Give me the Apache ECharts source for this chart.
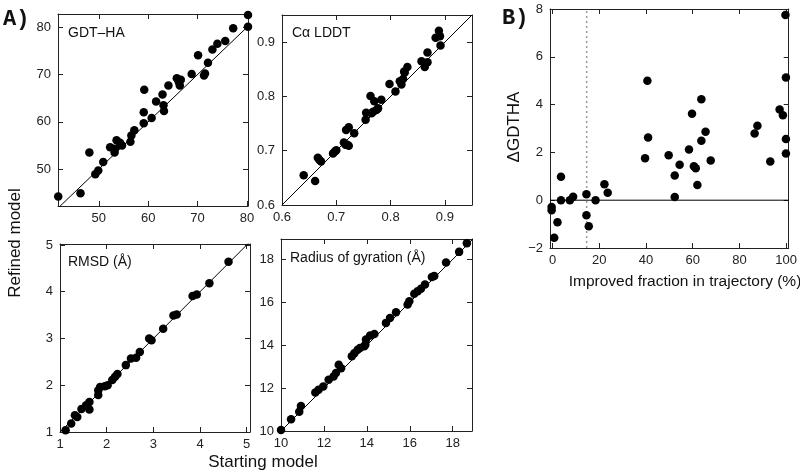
<!DOCTYPE html>
<html>
<head>
<meta charset="utf-8">
<script src="https://cdn.jsdelivr.net/npm/echarts@6/dist/echarts.min.js"></script>
<style>html,body{margin:0;padding:0;background:#fff}#c{width:800px;height:474px}</style>
</head>
<body>
<div id="c"></div>
<script>
// ---- data (starting, refined) ----
const gdtHA = [[41.8,44.2],[46.3,44.9],[48.1,53.5],[49.3,48.9],[49.9,49.7],[50.9,51.5],[52.3,54.6],[53.2,53.5],[53.3,54.3],[53.6,56.1],[54.3,55.6],[54.7,55.0],[56.4,55.8],[56.6,57.1],[57.2,58.2],[59.1,59.7],[59.1,62.0],[59.2,66.8],[60.7,60.8],[61.6,64.3],[62.9,65.8],[63.1,63.5],[63.2,62.3],[64.1,67.7],[65.8,69.2],[66.2,68.4],[66.6,68.9],[66.4,67.7],[68.8,70.1],[70.1,74.1],[71.3,69.8],[71.5,70.2],[72.1,72.5],[73.0,75.3],[74.0,76.5],[75.6,77.1],[77.2,79.8],[80.2,82.6],[80.2,80.1]];
const caLDDT = [[0.640,0.655],[0.661,0.644],[0.666,0.687],[0.669,0.683],[0.672,0.680],[0.694,0.695],[0.697,0.698],[0.700,0.701],[0.714,0.715],[0.717,0.711],[0.718,0.738],[0.723,0.743],[0.720,0.711],[0.723,0.709],[0.733,0.732],[0.754,0.757],[0.755,0.770],[0.763,0.801],[0.765,0.769],[0.768,0.772],[0.770,0.791],[0.774,0.775],[0.777,0.778],[0.783,0.794],[0.798,0.823],[0.809,0.809],[0.817,0.828],[0.820,0.822],[0.823,0.832],[0.826,0.844],[0.831,0.854],[0.825,0.846],[0.857,0.865],[0.863,0.854],[0.868,0.863],[0.868,0.881],[0.883,0.908],[0.889,0.921],[0.891,0.911],[0.892,0.894]];
const rmsd = [[1.12,1.04],[1.24,1.18],[1.32,1.36],[1.37,1.32],[1.46,1.49],[1.56,1.57],[1.63,1.64],[1.63,1.48],[1.82,1.89],[1.86,1.96],[1.82,1.79],[1.96,1.98],[2.02,2.00],[2.12,2.11],[2.18,2.18],[2.23,2.24],[2.41,2.43],[2.52,2.57],[2.63,2.59],[2.71,2.71],[2.91,3.00],[2.96,2.96],[3.21,3.21],[3.43,3.49],[3.50,3.51],[3.84,3.91],[3.93,3.94],[4.20,4.18],[4.61,4.64]];
const rgyr = [[10.0,10.05],[10.47,10.55],[10.85,10.9],[10.93,11.17],[11.6,11.8],[11.75,11.92],[11.97,12.07],[12.22,12.39],[12.45,12.54],[12.56,12.7],[12.69,13.09],[12.8,12.93],[13.3,13.48],[13.42,13.63],[13.57,13.79],[13.68,13.87],[13.88,13.95],[13.96,14.26],[13.93,14.02],[14.15,14.45],[14.35,14.52],[14.89,15.04],[15.08,15.27],[15.36,15.54],[15.9,15.9],[15.98,16.05],[16.21,16.4],[16.37,16.52],[16.52,16.63],[16.71,16.83],[17.03,17.18],[17.14,17.22],[17.69,17.85],[18.3,18.35],[18.66,18.75]];
// panel B: improved fraction (%), delta GDT-HA
const improved = [[-0.4,-0.28],[-0.4,-0.42],[0.7,-1.57],[2.1,-0.92],[3.6,0.98],[3.6,0.0],[7.4,0.0],[8.8,0.14],[14.5,0.25],[14.5,-0.63],[15.5,-1.09],[18.4,0.0],[22.2,0.67],[23.6,0.31],[39.6,1.76],[40.6,5.0],[40.9,2.62],[49.7,1.88],[52.3,1.03],[52.3,0.13],[54.4,1.48],[58.4,2.12],[59.7,3.62],[60.5,1.42],[61.3,1.34],[62.0,0.64],[63.7,2.49],[63.7,4.22],[65.5,2.86],[67.7,1.66],[86.5,2.79],[87.7,3.12],[93.2,1.62],[97.2,3.79],[98.6,3.55],[99.7,7.75],[99.9,5.13],[99.9,2.56],[99.9,1.95]];
const threshold = 14.6;
// tick labels
const gdtTicks = [50,60,70,80];
const lddtTicks = [0.6,0.7,0.8,0.9];
const rmsdTicks = [1,2,3,4,5];
const rgyrTicks = [10,12,14,16,18];
const bxTicks = [0,20,40,60,80,100];
const byTicks = [-2,0,2,4,6,8];

const FONT = 'Liberation Sans';
const LINE = '#222';

const panels = [
  {grid:{left:58,top:14,width:190,height:192}, x:[41.75,80.2], y:[42.2,82.8], xt:gdtTicks, yt:gdtTicks, data:gdtHA, diag:true},
  {grid:{left:282,top:15,width:190,height:190}, x:[0.6,0.95], y:[0.6,0.95], xt:lddtTicks, yt:lddtTicks, data:caLDDT, diag:true},
  {grid:{left:60,top:244,width:190,height:188}, x:[1,5.07], y:[1,5.02], xt:rmsdTicks, yt:rmsdTicks, data:rmsd, diag:true},
  {grid:{left:281,top:239,width:191,height:192}, x:[10,18.9], y:[10,18.95], xt:rgyrTicks, yt:rgyrTicks, data:rgyr, diag:true},
  {grid:{left:550,top:9,width:239,height:239}, x:[-1.1,101.1], y:[-2,8], xt:bxTicks, yt:byTicks, data:improved, diag:false}
];

const fmt = v => String(+v.toFixed(2)).replace('-', '\u2212');

const grids = [], xAxes = [], yAxes = [], series = [];
panels.forEach((p, i) => {
  grids.push(p.grid);
  const base = (pos, range, ticks, show, isX) => ({
    type:'value', gridIndex:i, position:pos, min:range[0], max:range[1],
    splitLine:{show:false},
    axisLine:{show:true, onZero:false, lineStyle:{color:LINE, width:1}},
    axisTick:{show:true, inside:true, length:5, customValues:ticks, lineStyle:{color:LINE}},
    axisLabel:{show:show, customValues:ticks, formatter:fmt, color:'#222', fontSize:13, fontFamily:FONT, margin: isX ? 6 : 7}
  });
  xAxes.push(base('bottom', p.x, p.xt, true, true));
  xAxes.push(base('top', p.x, p.xt, false, true));
  yAxes.push(base('left', p.y, p.yt, true, false));
  yAxes.push(base('right', p.y, p.yt, false, false));
  const xi = i*2, yi = i*2;
  if (p.diag) {
    const lo = Math.min(p.x[0], p.y[0]), hi = Math.max(p.x[1], p.y[1]);
    series.push({type:'line', xAxisIndex:xi, yAxisIndex:yi, data:[[lo,lo],[hi,hi]], symbol:'none', clip:true,
      lineStyle:{color:'#000', width:1}, silent:true, z:1});
  } else {
    series.push({type:'line', xAxisIndex:xi, yAxisIndex:yi, data:[[p.x[0],0],[p.x[1],0]], symbol:'none', clip:true,
      lineStyle:{color:'#000', width:1}, silent:true, z:1});
    series.push({type:'line', xAxisIndex:xi, yAxisIndex:yi, data:[[threshold,p.y[0]],[threshold,p.y[1]]], symbol:'none', clip:true,
      lineStyle:{color:'#999', width:1.5, type:[2,3]}, silent:true, z:1});
  }
  series.push({type:'scatter', xAxisIndex:xi, yAxisIndex:yi, data:p.data, symbol:'circle', symbolSize:8.5,
    itemStyle:{color:'#000', opacity:1}, clip:false, z:3});
});

const txt = (x, y, s, size, extra) => Object.assign({type:'text', x:x, y:y,
  style:Object.assign({text:s, fill:'#111', font: size + 'px "' + FONT + '"', textVerticalAlign:'middle'}, extra || {})});

const graphics = [
  txt(68, 33, 'GDT\u2013HA', 14),
  txt(292, 33, 'C\u03b1 LDDT', 14),
  txt(68, 262, 'RMSD (\u00c5)', 14),
  txt(290, 258, 'Radius of gyration (\u00c5)', 14),
  txt(263, 462, 'Starting model', 17, {textAlign:'center'}),
  txt(685, 282, 'Improved fraction in trajectory (%)', 15.5, {textAlign:'center'}),
  {type:'text', x:15, y:243, rotation:Math.PI/2, style:{text:'Refined model', fill:'#111', font:'17px "'+FONT+'"', textAlign:'center', textVerticalAlign:'middle'}},
  {type:'text', x:514, y:127, rotation:Math.PI/2, style:{text:'\u0394GDTHA', fill:'#111', font:'17px "'+FONT+'"', textAlign:'center', textVerticalAlign:'middle'}},
  txt(3, 19, 'A)', 22, {font:'bold 22px "Liberation Mono"'}),
  txt(502, 18, 'B)', 22, {font:'bold 22px "Liberation Mono"'})
];

const chart = echarts.init(document.getElementById('c'), null, {renderer:'canvas'});
chart.setOption({
  animation:false,
  backgroundColor:'#fff',
  grid:grids, xAxis:xAxes, yAxis:yAxes, series:series, graphic:graphics
});
</script>
</body>
</html>
